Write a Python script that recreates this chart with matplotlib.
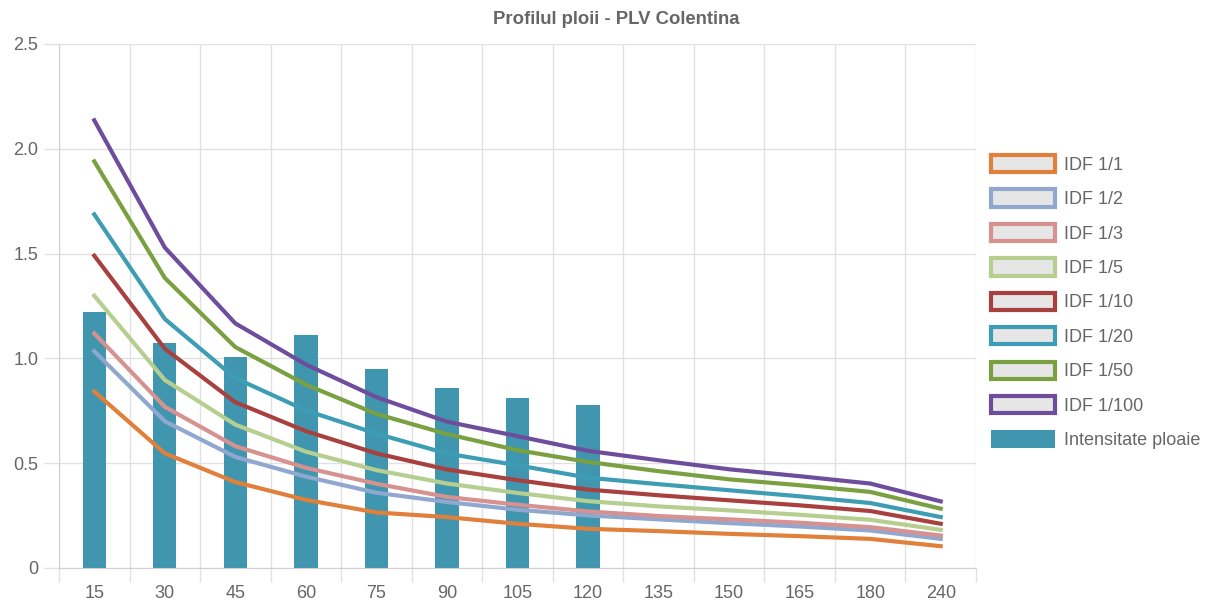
import matplotlib
matplotlib.use("Agg")
import matplotlib.pyplot as plt
from matplotlib.patches import Rectangle
import numpy as np

plt.rcParams['font.family'] = ['Liberation Sans', 'DejaVu Sans']

durations = ["15", "30", "45", "60", "75", "90", "105", "120", "135", "150", "165", "180", "240"]
rain_intensity = [1.22, 1.075, 1.005, 1.11, 0.948, 0.861, 0.81, 0.78]

idf_1_1 = [0.842, 0.547, 0.41, 0.325, 0.265, 0.243, 0.211, 0.187, 0.176, 0.163, 0.152, 0.139, 0.104]
idf_1_2 = [1.034, 0.70, 0.53, 0.436, 0.359, 0.315, 0.278, 0.251, 0.232, 0.214, 0.198, 0.179, 0.139]
idf_1_3 = [1.119, 0.769, 0.581, 0.478, 0.402, 0.339, 0.302, 0.27, 0.248, 0.232, 0.216, 0.195, 0.155]
idf_1_5 = [1.299, 0.897, 0.684, 0.555, 0.467, 0.403, 0.358, 0.319, 0.294, 0.275, 0.254, 0.23, 0.182]
idf_1_10 = [1.49, 1.046, 0.791, 0.653, 0.547, 0.47, 0.419, 0.374, 0.347, 0.323, 0.299, 0.272, 0.211]
idf_1_20 = [1.687, 1.188, 0.906, 0.752, 0.641, 0.546, 0.49, 0.431, 0.40, 0.371, 0.342, 0.31, 0.243]
idf_1_50 = [1.94, 1.384, 1.054, 0.875, 0.735, 0.639, 0.562, 0.506, 0.462, 0.423, 0.395, 0.363, 0.283]
idf_1_100 = [2.136, 1.529, 1.167, 0.971, 0.815, 0.698, 0.629, 0.559, 0.514, 0.471, 0.438, 0.403, 0.318]

series_labels = ["IDF 1/1", "IDF 1/2", "IDF 1/3", "IDF 1/5", "IDF 1/10", "IDF 1/20", "IDF 1/50", "IDF 1/100"]
series_values = [idf_1_1, idf_1_2, idf_1_3, idf_1_5, idf_1_10, idf_1_20, idf_1_50, idf_1_100]
series_colors = ["#E0803A", "#90A8D0", "#D69290", "#B6CF90", "#A8403F", "#3D9DB4", "#7AA042", "#6E4E9C"]
bar_color = "#4096AF"
bar_label = "Intensitate ploaie"

fig = plt.figure(figsize=(12.15, 6.06), dpi=100)
ax = fig.add_axes([59/1215, 1-568/606, (976-59)/1215, (568-44)/606])

x = np.arange(len(durations))
ax.bar(x[:len(rain_intensity)], rain_intensity, width=0.33, color=bar_color, zorder=2, label=bar_label)
for vals, col in zip(series_values, series_colors):
    ax.plot(x, vals, color=col, lw=3.0, zorder=3, solid_joinstyle='round')

ax.set_xlim(-0.5, len(durations) - 0.5)
ax.set_ylim(0, 2.5)

grid_c = "#e1e1e1"
txt_c = "#666666"
ax.set_xticks(x)
ax.set_xticklabels(durations)
ax.set_xticks(np.arange(-0.5, len(durations)), minor=True)
ax.tick_params(axis='x', which='major', length=0, pad=12, labelsize=13, labelcolor=txt_c)
ax.tick_params(axis='x', which='minor', length=10, color=grid_c, width=1)
ax.grid(axis='x', which='minor', color=grid_c, lw=1, zorder=0)

yt = [0, 0.5, 1.0, 1.5, 2.0, 2.5]
ax.set_yticks(yt)
ax.set_yticklabels(["0", "0.5", "1.0", "1.5", "2.0", "2.5"])
ax.tick_params(axis='y', length=11, color=grid_c, width=1, labelsize=13, labelcolor=txt_c, pad=4)
ax.grid(axis='y', which='major', color=grid_c, lw=1, zorder=0)

for s in ['top', 'right']:
    ax.spines[s].set_visible(False)
for s in ['left', 'bottom']:
    ax.spines[s].set_color("#d0d0d0")

fig.text(616/1215, 1-19/606, "Profilul ploii - PLV Colentina", ha='center', va='center',
         fontsize=13.3, fontweight='bold', color=txt_c)

handles = [Rectangle((0, 0), 1, 1, facecolor="#e6e6e6", edgecolor=c, lw=3) for c in series_colors]
handles.append(Rectangle((0, 0), 1, 1, facecolor=bar_color, edgecolor=bar_color, lw=0))
labels = series_labels + [bar_label]
leg = fig.legend(handles, labels, loc='upper left', bbox_to_anchor=(991/1215, 1-155/606),
                 frameon=False, fontsize=13, handlelength=3.55, handleheight=1.1,
                 labelspacing=0.865, handletextpad=0.5, borderpad=0, borderaxespad=0)
for t in leg.get_texts():
    t.set_color(txt_c)

fig.savefig("out.png", dpi=100, facecolor="white")
